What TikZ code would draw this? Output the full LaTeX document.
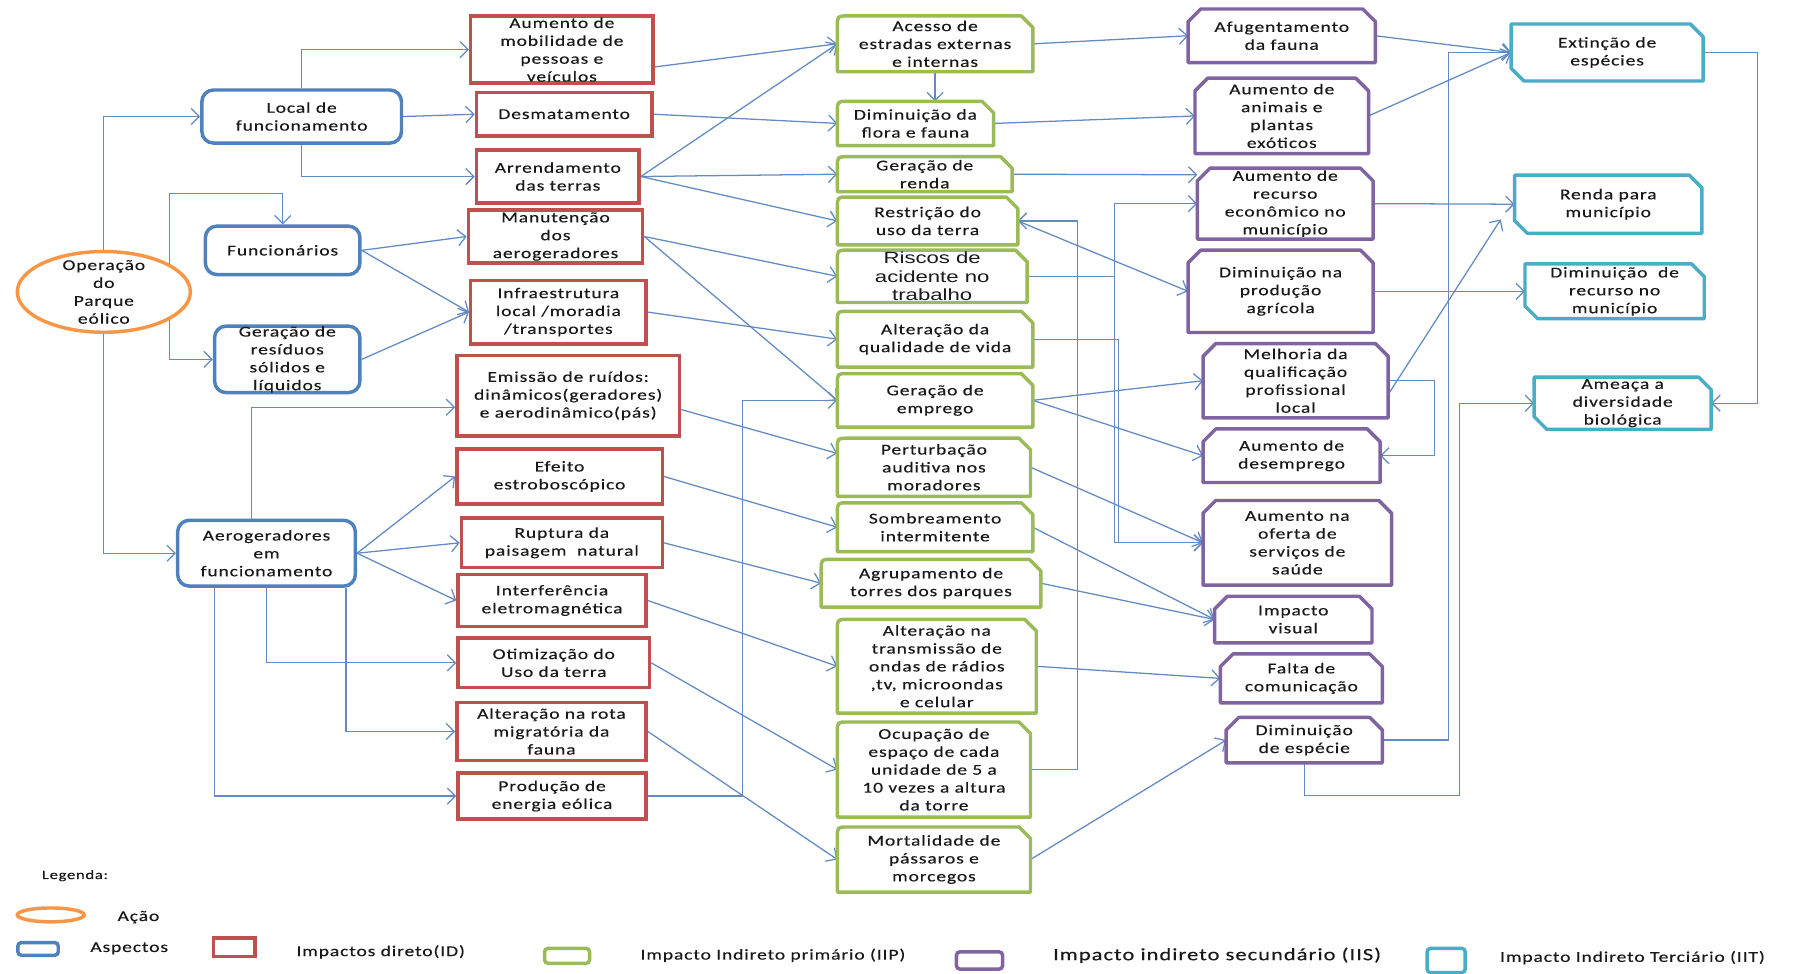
\documentclass[tikz,border=0pt]{standalone}
\usepackage{fontspec}
\setmainfont{Carlito}[FakeStretch=1.3,LetterSpace=6,FakeBold=0.3]
\newfontfamily\arialx{Liberation Sans}[FakeStretch=1.37]
\usetikzlibrary{arrows.meta,calc,shapes.geometric}
\pgfdeclarelayer{bg}\pgfdeclarelayer{mid}
\pgfsetlayers{bg,mid,main}
\definecolor{redC}{HTML}{C0504D}
\definecolor{blueC}{HTML}{4F81BD}
\definecolor{greenC}{HTML}{9BBB59}
\definecolor{purpleC}{HTML}{8064A2}
\definecolor{tealC}{HTML}{4BACC6}
\definecolor{orangeC}{HTML}{F79646}
\definecolor{conC}{HTML}{628BC3}
\tikzset{
 txt/.style={font=\fontsize{13}{15.5}\selectfont, align=center, text=black!90, inner sep=0pt},
 bluebox/.style={txt, draw=blueC, line width=3pt, rounded corners=10pt, fill=white},
 redbox/.style={txt, draw=redC, line width=3pt, fill=white},
 plainbox/.style={txt, rectangle},
 con/.style={draw=conC, line width=1.1pt, -{Straight Barb[length=7pt,width=14pt]}},
 gshape/.style={draw=greenC, line width=3pt, fill=white, line join=round},
 pshape/.style={draw=purpleC, line width=3pt, fill=white, line join=round},
 tshape/.style={draw=tealC, line width=3pt, fill=white, line join=round},
 legtxt/.style={font=\fontsize{13}{15}\selectfont, text=black!90, inner sep=0pt}
}
\newcommand\gshp[1]{\path[gshape] (#1.south west) -- ($(#1.north west)+(0,9)$) .. controls (#1.north west) .. ($(#1.north west)+(9,0)$) -- ($(#1.north east)+(-10,0)$) -- ($(#1.north east)+(0,10)$) -- (#1.south east) -- cycle;}
\newcommand\pshp[1]{\path[pshape] (#1.south west) -- ($(#1.north west)+(0,11)$) -- ($(#1.north west)+(11,0)$) -- ($(#1.north east)+(-11,0)$) -- ($(#1.north east)+(0,11)$) -- (#1.south east) -- cycle;}
\newcommand\tshp[1]{\path[tshape] (#1.north west) -- ($(#1.north east)+(-11,0)$) -- ($(#1.north east)+(0,11)$) -- (#1.south east) -- ($(#1.south west)+(11,0)$) -- ($(#1.south west)+(0,-11)$) -- cycle;}
\begin{document}
\begin{tikzpicture}[x=1pt,y=-1pt]
\useasboundingbox (0,0) rectangle (1568,844);
\begin{pgfonlayer}{bg}
\fill[white] (0,0) rectangle (1568,844);
\end{pgfonlayer}

% action
\node[draw=orangeC, line width=3pt, ellipse, minimum width=150pt, minimum height=70pt, inner sep=0pt, fill=white] (op) at (90,253) {};
\node[txt] (opt) at (op) {Operação\\do\\Parque\\eólico};

% aspects
\node[bluebox, minimum width=173pt, minimum height=46pt] (loc) at (261.5,101) {Local de\\funcionamento};
\node[bluebox, minimum width=134pt, minimum height=42pt] (func) at (245,217) {Funcionários};
\node[bluebox, minimum width=126pt, minimum height=57pt] (res) at (249,311.5) {Geração de\\resíduos\\sólidos e\\líquidos};
\node[bluebox, minimum width=154pt, minimum height=57pt] (aero) at (231,479.5) {Aerogeradores\\em\\funcionamento};

% direct impacts
\node[redbox, minimum width=158pt, minimum height=58pt] (r1) at (487,43) {Aumento de\\mobilidade de\\pessoas e\\veículos};
\node[redbox, minimum width=152pt, minimum height=38pt] (r2) at (489,99) {Desmatamento};
\node[redbox, minimum width=141pt, minimum height=46pt] (r3) at (483.5,153) {Arrendamento\\das terras};
\node[redbox, minimum width=151pt, minimum height=46pt] (r4) at (481.5,205) {Manutenção\\dos\\aerogeradores};
\node[redbox, minimum width=152pt, minimum height=55pt] (r5) at (484,270.5) {Infraestrutura\\local /moradia\\/transportes};
\node[redbox, minimum width=193pt, minimum height=70pt] (r6) at (492.5,343) {Emissão de ruídos:\\dinâmicos(geradores)\\e aerodinâmico(pás)};
\node[redbox, minimum width=178pt, minimum height=48pt] (r7) at (485,413) {Efeito\\estroboscópico};
\node[redbox, minimum width=174pt, minimum height=43pt] (r8) at (487,470.5) {Ruptura da\\paisagem\ \ natural};
\node[redbox, minimum width=163pt, minimum height=45pt] (r9) at (478.5,520.5) {Interferência\\eletromagnética};
\node[redbox, minimum width=166pt, minimum height=43pt] (r10) at (480,574.5) {Otimização do\\Uso da terra};
\node[redbox, minimum width=164pt, minimum height=50pt] (r11) at (478,634) {Alteração na rota\\migratória da\\fauna};
\node[redbox, minimum width=163pt, minimum height=40pt] (r12) at (478.5,690) {Produção de\\energia eólica};

% primary indirect
\node[plainbox, minimum width=169pt, minimum height=48pt] (g1) at (810.5,38) {Acesso de\\estradas externas\\e internas};
\node[plainbox, minimum width=135pt, minimum height=38pt] (g2) at (793.5,107) {Diminuição da\\flora e fauna};
\node[plainbox, minimum width=151pt, minimum height=30pt] (g3) at (801.5,151) {Geração de\\renda};
\node[plainbox, minimum width=156pt, minimum height=41pt] (g4) at (804,191.5) {Restrição do\\uso da terra};
\node[plainbox, minimum width=164pt, minimum height=45pt, font=\arialx\fontsize{14}{16}\selectfont] (g5) at (808,239.5) {Riscos de\\acidente no\\trabalho};
\node[plainbox, minimum width=169pt, minimum height=48pt] (g6) at (810.5,294) {Alteração da\\qualidade de vida};
\node[plainbox, minimum width=169pt, minimum height=46pt] (g7) at (810.5,347) {Geração de\\emprego};
\node[plainbox, minimum width=167pt, minimum height=50pt] (g8) at (809.5,405) {Perturbação\\auditiva nos\\moradores};
\node[plainbox, minimum width=169pt, minimum height=42pt] (g9) at (810.5,457) {Sombreamento\\intermitente};
\node[plainbox, minimum width=190pt, minimum height=41pt] (g10) at (807,505.5) {Agrupamento de\\torres dos parques};
\node[plainbox, minimum width=172pt, minimum height=81pt] (g11) at (812,577.5) {Alteração na\\transmissão de\\ondas de rádios\\,tv, microondas\\e celular};
\node[plainbox, minimum width=167pt, minimum height=82pt] (g12) at (809.5,667) {Ocupação de\\espaço de cada\\unidade de 5 a\\10 vezes a altura\\da torre};
\node[plainbox, minimum width=167pt, minimum height=56pt] (g13) at (809.5,745) {Mortalidade de\\pássaros e\\morcegos};

% secondary indirect
\node[plainbox, minimum width=162pt, minimum height=46pt] (p1) at (1111,31) {Afugentamento\\da fauna};
\node[plainbox, minimum width=150pt, minimum height=65pt] (p2) at (1111,100.5) {Aumento de\\animais e\\plantas\\exóticos};
\node[plainbox, minimum width=152pt, minimum height=61pt] (p3) at (1114,176.5) {Aumento de\\recurso\\econômico no\\município};
\node[plainbox, minimum width=160pt, minimum height=71pt] (p4) at (1110,252.5) {Diminuição na\\produção\\agrícola};
\node[plainbox, minimum width=160pt, minimum height=64pt] (p5) at (1123,330) {Melhoria da\\qualificação\\profissional\\local};
\node[plainbox, minimum width=153pt, minimum height=46pt] (p6) at (1119.5,395) {Aumento de\\desemprego};
\node[plainbox, minimum width=163pt, minimum height=73pt] (p7) at (1124.5,470.5) {Aumento na\\oferta de\\serviços de\\saúde};
\node[plainbox, minimum width=136pt, minimum height=40pt] (p8) at (1121,537) {Impacto\\visual};
\node[plainbox, minimum width=140pt, minimum height=42pt] (p9) at (1128,588) {Falta de\\comunicação};
\node[plainbox, minimum width=135pt, minimum height=39pt] (p10) at (1130.5,641.5) {Diminuição\\de espécie};

% tertiary indirect
\node[plainbox, minimum width=166pt, minimum height=49pt] (t1) at (1393,45.5) {Extinção de\\espécies};
\node[plainbox, minimum width=162pt, minimum height=50pt] (t2) at (1394,177) {Renda para\\município};
\node[plainbox, minimum width=155pt, minimum height=47pt] (t3) at (1399.5,252.5) {Diminuição\ \ de\\recurso no\\município};
\node[plainbox, minimum width=153pt, minimum height=45pt] (t4) at (1406.5,349.5) {Ameaça a\\diversidade\\biológica};

\begin{pgfonlayer}{mid}
\foreach \i in {1,...,13}{\gshp{g\i}}
\foreach \i in {1,...,10}{\pshp{p\i}}
\foreach \i in {1,...,4}{\tshp{t\i}}
\end{pgfonlayer}

% legend
\node[legtxt, font=\fontsize{11}{13}\selectfont] (leg) at (65,759) {Legenda:};
\node[draw=orangeC, line width=3pt, ellipse, minimum width=58pt, minimum height=12pt, inner sep=0pt] (lo) at (44,793) {};
\node[legtxt] (lot) at (120,795) {Ação};
\node[draw=blueC, line width=3pt, rounded corners=3pt, minimum width=35pt, minimum height=11pt, inner sep=0pt] (lb) at (33,822.5) {};
\node[legtxt] (lbt) at (112,822) {Aspectos};
\node[draw=redC, line width=3pt, minimum width=36pt, minimum height=16pt, inner sep=0pt] (lr) at (203,821) {};
\node[legtxt] (lrt) at (330,825) {Impactos direto(ID)};
\node[draw=greenC, line width=3pt, rounded corners=3pt, minimum width=39pt, minimum height=13pt, inner sep=0pt] (lg) at (491.5,828.5) {};
\node[legtxt] (lgt) at (670,828) {Impacto Indireto primário (IIP)};
\node[draw=purpleC, line width=3pt, rounded corners=3pt, minimum width=40pt, minimum height=15pt, inner sep=0pt] (lp) at (849,832.5) {};
\node[legtxt, font=\fontsize{15}{17}\selectfont] (lpt) at (1055,828) {Impacto indireto secundário (IIS)};
\node[draw=tealC, line width=3pt, rounded corners=3pt, minimum width=33pt, minimum height=21pt, inner sep=0pt] (lt) at (1253.5,832.5) {};
\node[legtxt] (ltt) at (1415,830) {Impacto Indireto Terciário (IIT)};

\begin{pgfonlayer}{bg}
% from action
\coordinate (jf) at (147,253);
\draw[con] (op.north) |- (loc.west);
\draw[con] (op.south) |- (aero.west);
\draw[con] (jf) -- ++(0,-85) -| (func.north);
\draw[con] (jf) |- (res.west);
% aspects -> direct
\draw[con] (loc.north) |- (r1.west);
\draw[con] (loc.east) -- (r2.west);
\draw[con] (loc.south) |- (r3.west);
\draw[con] (func.east) -- (r4.west);
\draw[con] (func.east) -- (r5.west);
\draw[con] (res.east) -- (r5.west);
\draw[con] ([xshift=-13pt]aero.north) |- ([yshift=-10pt]r6.west);
\draw[con] (aero.east) -- (r7.west);
\draw[con] (aero.east) -- (r8.west);
\draw[con] (aero.east) -- (r9.west);
\draw[con] (aero.south) |- (r10.west);
\draw[con] ([xshift=69pt]aero.south) |- (r11.west);
\draw[con] ([xshift=-45pt]aero.south) |- (r12.west);
% direct -> primary
\draw[con] ([yshift=-15pt]r1.east) -- (g1.west);
\draw[con] (r2.east) -- (g2.west);
\draw[con] (r3.east) -- (g1.west);
\draw[con] (r3.east) -- (g3.west);
\draw[con] (r3.east) -- (g4.west);
\draw[con] (r4.east) -- (g5.west);
\draw[con] (r4.east) -- (g7.west);
\draw[con] (r5.east) -- (g6.west);
\draw[con] ([yshift=-12pt]r6.east) -- ([yshift=12pt]g8.west);
\draw[con] (r7.east) -- (g9.west);
\draw[con] (r8.east) -- (g10.west);
\draw[con] (r9.east) -- (g11.west);
\draw[con] (r10.east) -- (g12.west);
\draw[con] (r11.east) -- (g13.west);
\draw[con] (r12.east) -- ++(82,0) |- (g7.west);
\draw[con] (g1.south) -- (g1.south |- g2.north);
% primary -> secondary
\draw[con] (g1.east) -- (p1.west);
\draw[con] (g2.east) -- (p2.west);
\draw[con] (g3.east) -- ([yshift=25pt]p3.west);
\draw[con] (g4.east) -- (p4.west);
\draw[con] (g12.east) -- ++(41,0) |- (g4.east);
\draw[con] (g5.east) -- ++(76,0) |- (p3.west);
\draw[con] (g5.east) -- ++(76,0) |- (p7.west);
\draw[con] (g6.east) -- ++(74,0) |- (p7.west);
\draw[con] (g7.east) -- (p5.west);
\draw[con] (g7.east) -- (p6.west);
\draw[con] (g8.east) -- (p7.west);
\draw[con] (g9.east) -- (p8.west);
\draw[con] (g10.east) -- (p8.west);
\draw[con] (g11.east) -- (p9.west);
\draw[con] (g13.east) -- (p10.west);
% secondary -> tertiary
\draw[con] (p1.east) -- (t1.west);
\draw[con] (p2.east) -- (t1.west);
\draw[con] (p3.east) -- (t2.west);
\draw[con] (p4.east) -- (t3.west);
\draw[con] ([yshift=-12pt]p5.east) -- ([shift={(-12pt,12pt)}]t2.south west);
\draw[con] (p5.east) -- ++(40,0) |- (p6.east);
\draw[con] (p10.east) -- ++(57,0) |- (t1.west);
\draw[con] (p10.south) -- ++(0,28) -- ++(134.5,0) |- (t4.west);
\draw[con] (t1.east) -- ++(47,0) |- (t4.east);
\end{pgfonlayer}
\end{tikzpicture}
\end{document}
